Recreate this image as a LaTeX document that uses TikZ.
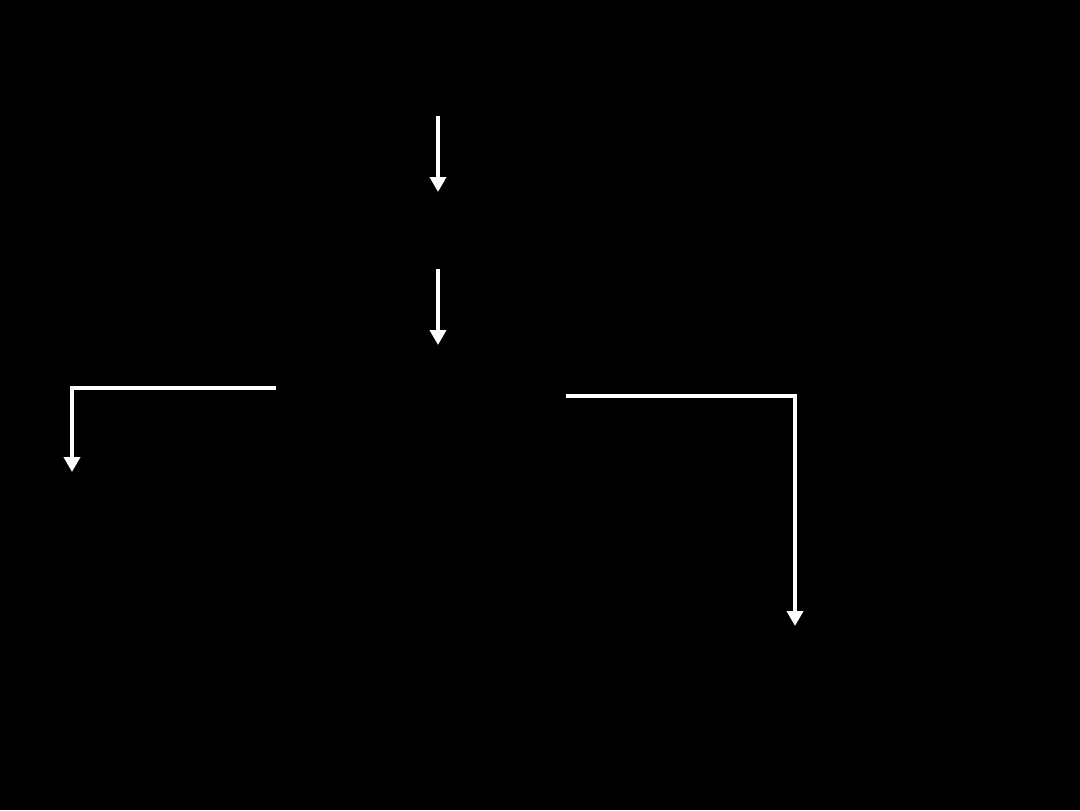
\documentclass[tikz,border=0pt]{standalone}
\usetikzlibrary{arrows.meta}
\begin{document}
\begin{tikzpicture}[>={Triangle[width=1.6mm,length=1.5mm]},line join=miter,
  flow/.style={draw=white,line width=1.4pt,->}]
\fill[black](0,0)rectangle(10.8,8.1);
\useasboundingbox(0,0)rectangle(10.8,8.1);
\foreach \diem/\x/\y in {A/4.38/6.94,B/4.38/6.18,C/4.38/5.41,D/4.38/4.65,
  L/2.76/4.22,LK/0.72/4.22,LE/0.72/3.38,R/5.66/4.14,RK/7.95/4.14,RE/7.95/1.84}{
\coordinate(\diem)at(\x,\y);
}
\draw[flow](A)--(B);
\draw[flow](C)--(D);
\draw[flow](L)--(LK)--(LE);
\draw[flow](R)--(RK)--(RE);
\end{tikzpicture}
\end{document}
